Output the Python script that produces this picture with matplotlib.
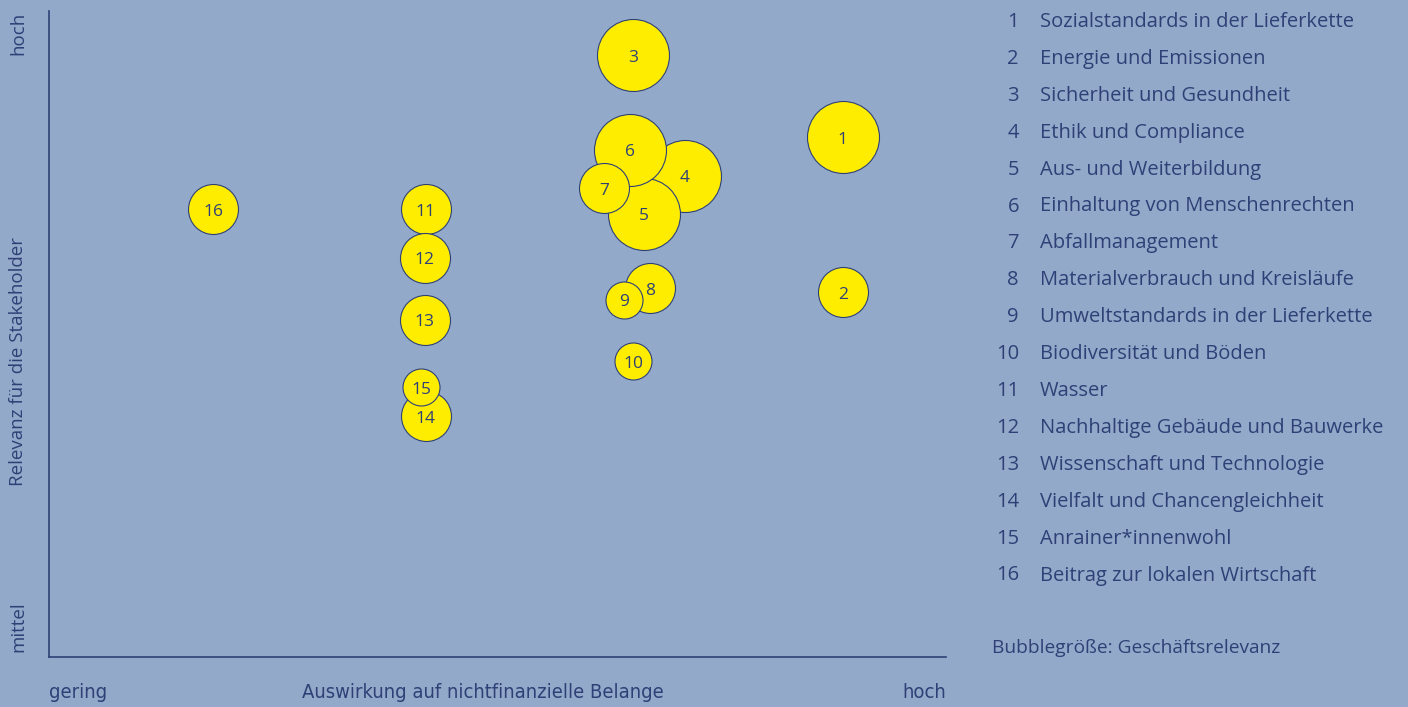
import matplotlib
matplotlib.use("Agg")
import matplotlib.pyplot as plt

# Wesentlichkeitsmatrix
ids = [1, 2, 3, 4, 5, 6, 7, 8, 9, 10, 11, 12, 13, 14, 15, 16]
topics = ["Sozialstandards in der Lieferkette", "Energie und Emissionen",
          "Sicherheit und Gesundheit", "Ethik und Compliance",
          "Aus- und Weiterbildung", "Einhaltung von Menschenrechten",
          "Abfallmanagement", "Materialverbrauch und Kreisläufe",
          "Umweltstandards in der Lieferkette", "Biodiversität und Böden",
          "Wasser", "Nachhaltige Gebäude und Bauwerke",
          "Wissenschaft und Technologie", "Vielfalt und Chancengleichheit",
          "Anrainer*innenwohl", "Beitrag zur lokalen Wirtschaft"]
impact = [8.85, 8.85, 6.51, 7.09, 6.63, 6.48, 6.19, 6.70,
          6.41, 6.51, 4.20, 4.19, 4.19, 4.20, 4.15, 1.83]
stakeholder = [8.05, 5.65, 9.32, 7.45, 6.86, 7.85, 7.26, 5.71,
               5.53, 4.58, 6.93, 6.18, 5.22, 3.73, 4.18, 6.93]
business = [3, 2, 3, 3, 3, 3, 2, 2, 1, 1, 2, 2, 2, 2, 1, 2]

BG = '#93a9c9'
NAVY = '#2e4177'
YELLOW = '#ffed00'
W, H, DPI = 1408, 707, 100
FONT2 = ['Open Sans', 'DejaVu Sans']

radius_px = {1: 18.5, 2: 25, 3: 36}   # bubble radius per relevance level

fig = plt.figure(figsize=(W / DPI, H / DPI), dpi=DPI, facecolor=BG)
ax = fig.add_axes([49 / W, (H - 657) / H, 897 / W, 646 / H])
ax.set_facecolor(BG)
ax.set_xlim(0, 10)
ax.set_ylim(0, 10)
for s in ['top', 'right']:
    ax.spines[s].set_visible(False)
for s in ['left', 'bottom']:
    ax.spines[s].set_color(NAVY)
    ax.spines[s].set_linewidth(1.2)
ax.set_xticks([])
ax.set_yticks([])

for i, n in enumerate(ids):
    r_pt = radius_px[business[i]] * 72 / DPI
    ax.scatter(impact[i], stakeholder[i], s=(2 * r_pt) ** 2, color=YELLOW,
               edgecolor=NAVY, linewidth=0.8, zorder=2 + i, clip_on=False)
    ax.text(impact[i], stakeholder[i] - 0.04, str(n), ha='center',
            va='center', fontsize=12.5, color=NAVY, zorder=2 + i,
            family=FONT2)

# legend list
y0, dy = 22, 36.9
for i, n in enumerate(ids):
    yy = 1 - (y0 + i * dy) / H
    fig.text(1019 / W, yy, str(n), ha='right', va='center', fontsize=14.5,
             color=NAVY, family=FONT2)
    fig.text(1040 / W, yy, topics[i], ha='left', va='center', fontsize=14.5,
             color=NAVY, family=FONT2)
fig.text(992 / W, 1 - 648 / H, 'Bubblegröße: Geschäftsrelevanz', ha='left',
         va='center', fontsize=13.8, color=NAVY, family=FONT2)

# axis captions
fig.text(18 / W, 1 - 33 / H, 'hoch', rotation=90, ha='center', va='center',
         fontsize=13.5, color=NAVY, family=FONT2)
fig.text(18 / W, 1 - 361 / H, 'Relevanz für die Stakeholder', rotation=90,
         ha='center', va='center', fontsize=13.5, color=NAVY, family=FONT2)
fig.text(18 / W, 1 - 627 / H, 'mittel', rotation=90, ha='center',
         va='center', fontsize=13.5, color=NAVY, family=FONT2)
cond = dict(color=NAVY, family='DejaVu Sans', stretch='condensed',
            fontsize=14.5, va='center')
fig.text(49 / W, 1 - 693 / H, 'gering', ha='left', **cond)
fig.text(302 / W, 1 - 693 / H, 'Auswirkung auf nichtfinanzielle Belange',
         ha='left', **cond)
fig.text(946 / W, 1 - 693 / H, 'hoch', ha='right', **cond)

fig.savefig('out.png', dpi=DPI, facecolor=BG)
